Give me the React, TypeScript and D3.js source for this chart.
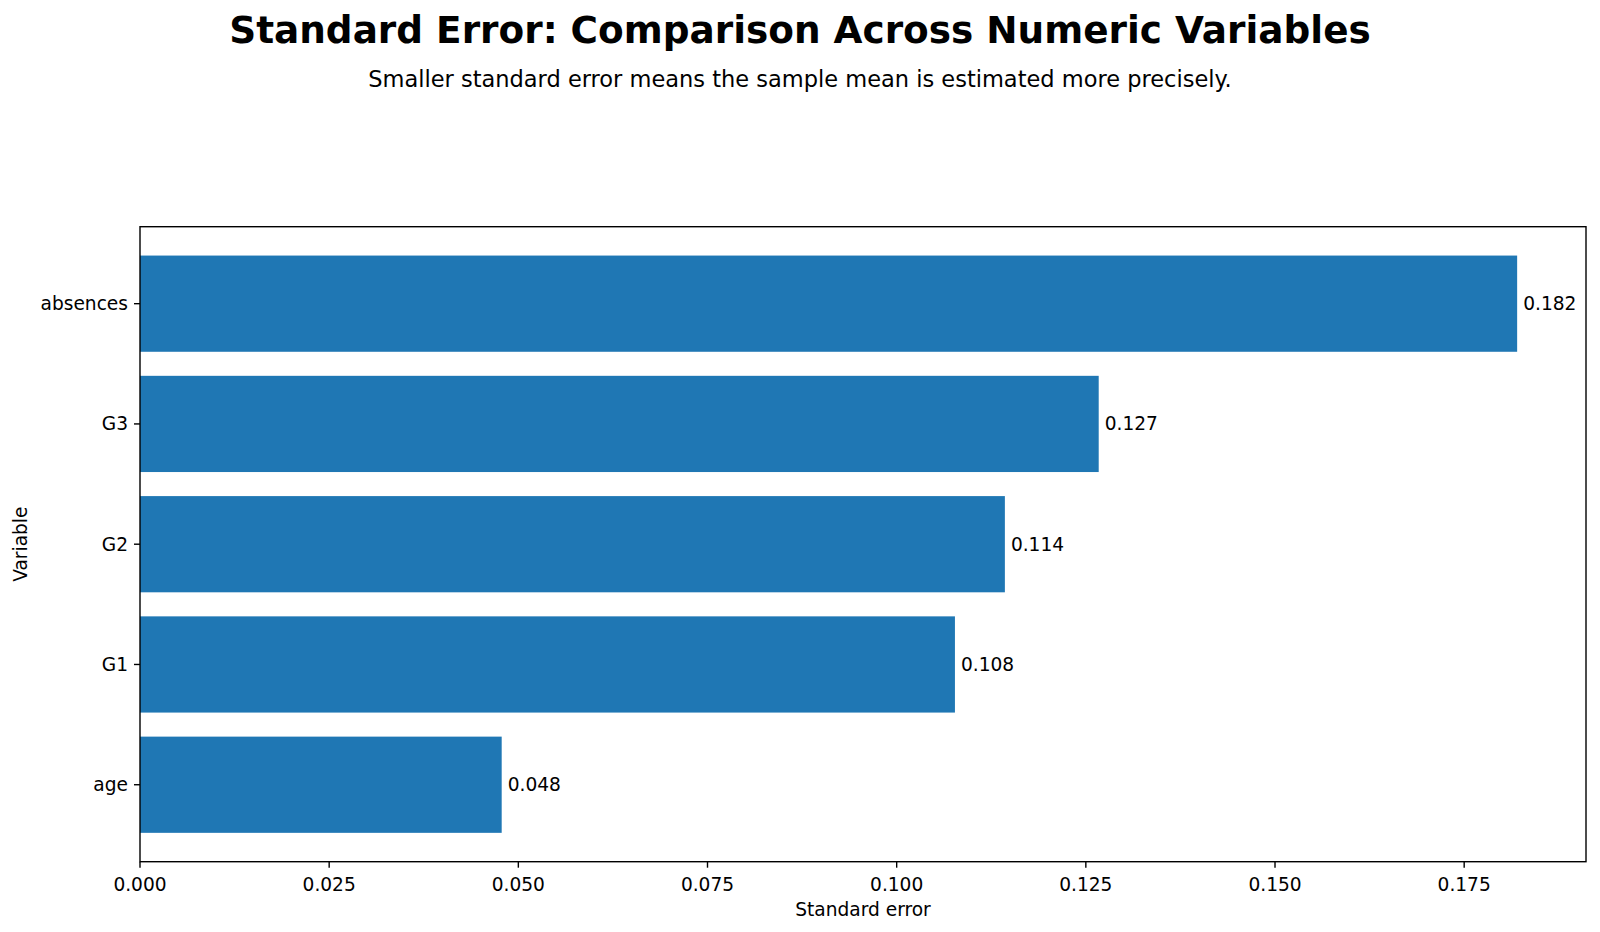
import * as d3 from "d3";

const variables = ["absences", "G3", "G2", "G1", "age"];
const stdErrors = [0.182, 0.1267, 0.1143, 0.1077, 0.0478];
const xTicks = [0, 0.025, 0.05, 0.075, 0.1, 0.125, 0.15, 0.175];

const title = "Standard Error: Comparison Across Numeric Variables";
const subtitle = "Smaller standard error means the sample mean is estimated more precisely.";

const width = 1600;
const height = 932;
const marginLeft = 140;
const marginRight = 14;
const marginTop = 226.7;
const marginBottom = 70.3;
const font = "DejaVu Sans, sans-serif";
const barColor = "#1f77b4";
const tickSize = 18.6;

export default function App() {
  const x = d3
    .scaleLinear()
    .domain([0, d3.max(stdErrors)! * 1.05])
    .range([marginLeft, width - marginRight]);
  const y = d3
    .scaleBand()
    .domain(variables)
    .range([marginTop, height - marginBottom])
    .paddingInner(0.2)
    .paddingOuter(0.24);
  const fmt = d3.format(".3f");
  const plotBottom = height - marginBottom;
  const plotRight = width - marginRight;

  return (
    <svg
      width={width}
      height={height}
      style={{ position: "absolute", left: 0, top: 0, background: "#fff" }}
      fontFamily={font}
    >
      <text x={800} y={42.7} textAnchor="middle" fontSize={37.4} fontWeight="bold">
        {title}
      </text>
      <text x={800} y={87.3} textAnchor="middle" fontSize={22.5}>
        {subtitle}
      </text>

      {variables.map((v, i) => (
        <g key={v}>
          <rect
            x={x(0)}
            y={y(v)}
            width={x(stdErrors[i]) - x(0)}
            height={y.bandwidth()}
            fill={barColor}
          />
          <text
            x={x(stdErrors[i]) + 6}
            y={y(v)! + y.bandwidth() / 2}
            dy="0.35em"
            fontSize={tickSize}
          >
            {fmt(stdErrors[i])}
          </text>
          <line
            x1={marginLeft - 6}
            x2={marginLeft}
            y1={y(v)! + y.bandwidth() / 2}
            y2={y(v)! + y.bandwidth() / 2}
            stroke="#000"
            strokeWidth={1.4}
          />
          <text
            x={marginLeft - 12}
            y={y(v)! + y.bandwidth() / 2}
            dy="0.35em"
            textAnchor="end"
            fontSize={tickSize}
          >
            {v}
          </text>
        </g>
      ))}

      <rect
        x={marginLeft}
        y={marginTop}
        width={plotRight - marginLeft}
        height={plotBottom - marginTop}
        fill="none"
        stroke="#000"
        strokeWidth={1.4}
      />

      {xTicks.map((t) => (
        <g key={t}>
          <line
            x1={x(t)}
            x2={x(t)}
            y1={plotBottom}
            y2={plotBottom + 6}
            stroke="#000"
            strokeWidth={1.4}
          />
          <text x={x(t)} y={890.7} textAnchor="middle" fontSize={tickSize}>
            {fmt(t)}
          </text>
        </g>
      ))}

      <text x={(marginLeft + plotRight) / 2} y={915.7} textAnchor="middle" fontSize={tickSize}>
        Standard error
      </text>
      <text
        transform={`translate(27.3, ${(marginTop + plotBottom) / 2}) rotate(-90)`}
        textAnchor="middle"
        fontSize={tickSize}
      >
        Variable
      </text>
    </svg>
  );
}
